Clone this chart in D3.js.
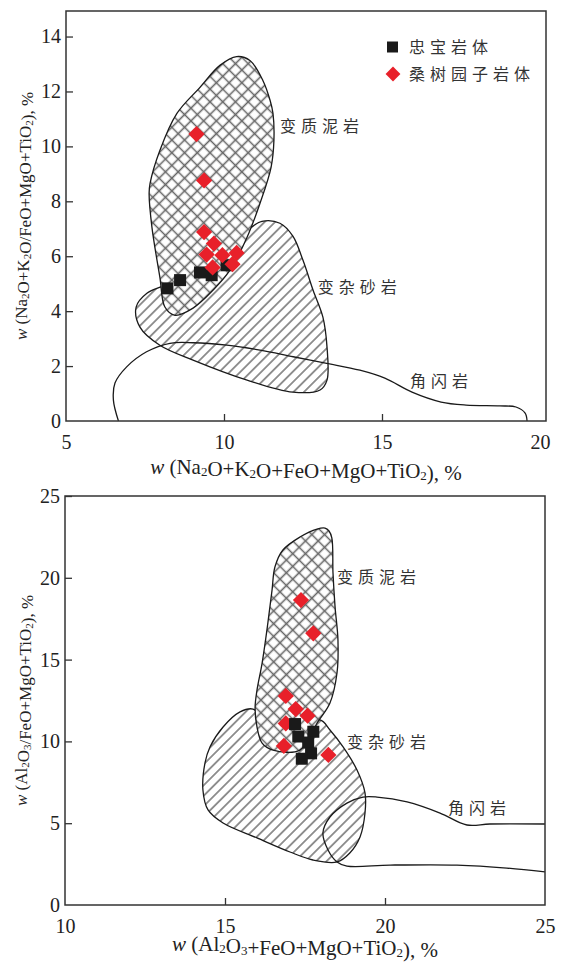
<!DOCTYPE html>
<html>
<head>
<meta charset="utf-8">
<script src="https://cdn.jsdelivr.net/npm/d3@7"></script>
<style>
  body { margin: 0; background: #fff; }
  svg { display: block; }
  .tick text { font-family: "Liberation Serif", serif; font-size: 20px; fill: #222; }
  .cn { font-family: "Noto Sans CJK SC", sans-serif; font-size: 16px; fill: #333; letter-spacing: 5px; }
  .title { font-family: "Liberation Serif", serif; fill: #222; }
</style>
</head>
<body>
<div id="chart"></div>
<script>
// ---- data ----
// chart 1: w(Na2O+K2O+FeO+MgO+TiO2) vs w(Na2O+K2O/FeO+MgO+TiO2)
var zbX1 = [8.21, 8.61, 9.24, 9.61, 10.08];
var zbY1 = [4.83, 5.13, 5.41, 5.31, 5.67];
var sstX1 = [9.13, 9.37, 9.37, 9.68, 9.45, 9.95, 10.4, 9.64, 10.27];
var sstY1 = [10.45, 8.76, 6.88, 6.46, 6.06, 6.04, 6.12, 5.59, 5.71];

var mudstone1 = [[10.40,13.27],[10.82,13.13],[11.23,12.4],[11.46,11.67],[11.55,11.2],[11.58,10.22],[11.49,9.24],[11.14,7.93],[10.73,6.69],[10.19,5.49],[9.65,4.76],[9.02,4.11],[8.45,3.85],[8.13,4.15],[7.97,5.24],[7.72,7.05],[7.63,8.29],[7.66,8.65],[7.97,9.85],[8.51,11.2],[9.24,12.15],[9.87,12.95]];
var greywacke1 = [[10.82,7.02],[11.2,7.27],[11.77,7.2],[12.18,6.73],[12.5,5.85],[12.82,4.76],[13.13,3.78],[13.26,2.69],[13.26,1.49],[13.04,1.13],[12.18,1.05],[10.73,1.49],[9.02,2.22],[7.97,2.76],[7.34,3.42],[7.22,4.15],[7.56,4.65],[8.13,4.95],[9.24,5.67],[10.35,6.65]];
var amphibolite1 = [[6.66,0],[6.5,0.76],[6.55,1.38],[6.92,1.97],[7.55,2.52],[8.29,2.83],[9.03,2.85],[10.09,2.76],[11.14,2.58],[12.19,2.34],[13.25,2.1],[14.3,1.85],[15.09,1.56],[15.95,1.05],[16.87,0.69],[17.66,0.58],[18.73,0.55],[19.24,0.51],[19.53,0.29],[19.59,0]];

var xTicks1 = [5, 10, 15, 20];
var yTicks1 = [0, 2, 4, 6, 8, 10, 12, 14];

// chart 2: w(Al2O3+FeO+MgO+TiO2) vs w(Al2O3/FeO+MgO+TiO2)
var zbX2 = [17.19, 17.29, 17.76, 17.6, 17.69, 17.4];
var zbY2 = [11.06, 10.3, 10.59, 9.93, 9.27, 8.94];
var sstX2 = [17.375, 17.76, 16.9, 17.21, 17.58, 16.9, 16.84, 18.23];
var sstY2 = [18.64, 16.61, 12.78, 11.98, 11.57, 11.1, 9.72, 9.17];

var mudstone2 = [[18.125,23.04],[18.25,22.86],[18.34,22.43],[18.375,20.29],[18.44,18.21],[18.53,16.2],[18.5,14.18],[18.28,12.35],[17.9,11.19],[17.34,9.47],[16.5,9.47],[16.16,9.9],[16.0,10.88],[15.94,12.04],[16.0,13.14],[16.16,14.79],[16.34,17.24],[16.47,19.25],[16.56,20.66],[16.81,21.7],[17.34,22.49],[17.875,22.98]];
var greywacke2 = [[15.875,11.98],[15.47,11.8],[14.94,10.88],[14.53,9.66],[14.375,8.68],[14.31,7.03],[14.47,5.81],[14.94,5.01],[16.0,4.1],[17.03,3.24],[17.75,2.75],[18.5,2.63],[18.9,3.18],[19.22,4.16],[19.375,5.62],[19.375,6.85],[19.125,8.25],[18.69,9.66],[18.28,10.7],[17.97,11.31],[17.03,10.7],[16.1,11.6]];
var amphibolite2 = [[25,4.95],[23.28,4.95],[22.56,4.89],[21.72,5.62],[20.69,6.3],[19.75,6.6],[19.31,6.6],[18.81,6.23],[18.28,5.38],[18.06,4.4],[18.22,3.36],[18.5,2.63],[18.81,2.38],[20.16,2.44],[22.25,2.44],[23.81,2.26],[25,2.02]];

var xTicks2 = [10, 15, 20, 25];
var yTicks2 = [0, 5, 10, 15, 20, 25];

var legendNames = ["忠宝岩体", "桑树园子岩体"];

var svg = d3.select("#chart").append("svg")
    .attr("width", 561)
    .attr("height", 965);

// hatch patterns
var defs = svg.append("defs");
defs.append("pattern")
    .attr("id", "cross")
    .attr("patternUnits", "userSpaceOnUse")
    .attr("width", 9).attr("height", 9)
    .attr("patternTransform", "rotate(45)")
  .append("path")
    .attr("d", "M0,4.5H9M4.5,0V9")
    .attr("stroke", "#666")
    .attr("stroke-width", 1.6);
defs.append("pattern")
    .attr("id", "diag")
    .attr("patternUnits", "userSpaceOnUse")
    .attr("width", 7.4).attr("height", 7.4)
    .attr("patternTransform", "rotate(45)")
  .append("path")
    .attr("d", "M3.7,0V7.4")
    .attr("stroke", "#555")
    .attr("stroke-width", 1.25);

function subText(sel, parts, subSize)
{
  parts.forEach(function(p){
    var t = sel.append("tspan").text(p[0]);
    if(p[1] == "i"){ t.style("font-style", "italic"); }
    if(p[1] == "s"){ t.attr("font-size", subSize).attr("dy", 2); sel.append("tspan").attr("dy", -2).text(""); }
  });
}

function drawChart(o)
{
  var g = svg.append("g");
  var x = d3.scaleLinear().domain(o.xDomain).range([o.left, o.right]);
  var y = d3.scaleLinear().domain(o.yDomain).range([o.bottom, o.top]);
  var area = d3.line().x(function(d){return x(d[0]);}).y(function(d){return y(d[1]);}).curve(d3.curveCatmullRomClosed.alpha(0.5));
  var open = d3.line().x(function(d){return x(d[0]);}).y(function(d){return y(d[1]);}).curve(d3.curveCatmullRom.alpha(0.5));

  // greywacke first, mudstone covers it
  g.append("path").attr("d", area(o.greywacke)).attr("fill", "url(#diag)").attr("stroke", "none");
  g.append("path").attr("d", open(o.amphibolite)).attr("fill", "none").attr("stroke", "#1a1a1a").attr("stroke-width", 1.3);
  g.append("path").attr("d", area(o.greywacke)).attr("fill", "none").attr("stroke", "#1a1a1a").attr("stroke-width", 1.3);
  g.append("path").attr("d", area(o.mudstone)).attr("fill", "#fff");
  g.append("path").attr("d", area(o.mudstone)).attr("fill", "url(#cross)").attr("stroke", "#1a1a1a").attr("stroke-width", 1.3);

  // labels on fields
  o.labels.forEach(function(l){
    g.append("text").attr("class", "cn")
      .attr("x", x(l[1])).attr("y", y(l[2]))
      .attr("dy", "0.35em")
      .text(l[0]);
  });

  // points
  var drawSquares = function(){
    g.selectAll(null).data(o.zbX).enter().append("rect")
      .attr("x", function(d){return x(d) - 6;})
      .attr("y", function(d, i){return y(o.zbY[i]) - 6;})
      .attr("width", 12).attr("height", 12)
      .attr("fill", "#1a1a1a");
  };
  var drawDiamonds = function(){
    g.selectAll(null).data(o.sstX).enter().append("path")
      .attr("d", d3.symbol(d3.symbolSquare, 132))
      .attr("transform", function(d, i){return "translate(" + x(d) + "," + y(o.sstY[i]) + ") rotate(45)";})
      .attr("fill", "#e8202a");
  };
  if(o.redOnTop){ drawSquares(); drawDiamonds(); }
  else { drawDiamonds(); drawSquares(); }

  // frame
  g.append("rect")
    .attr("x", o.left).attr("y", o.top)
    .attr("width", o.right - o.left).attr("height", o.bottom - o.top)
    .attr("fill", "none").attr("stroke", "#333").attr("stroke-width", 1.5);

  // axes with inner ticks
  var xa = g.append("g").attr("transform", "translate(0," + o.bottom + ")")
    .call(d3.axisBottom(x).tickValues(o.xTicks).tickSizeInner(-7).tickSizeOuter(0).tickPadding(14));
  xa.select(".domain").remove();
  xa.selectAll(".tick line").attr("stroke", "#333").attr("stroke-width", 1.3)
    .filter(function(d){return d == o.xDomain[0] || d > o.xNoTickAbove;}).remove();
  var ya = g.append("g").attr("transform", "translate(" + o.left + ",0)")
    .call(d3.axisLeft(y).tickValues(o.yTicks).tickSizeInner(-7).tickSizeOuter(0).tickPadding(5));
  ya.select(".domain").remove();
  ya.selectAll(".tick line").attr("stroke", "#333").attr("stroke-width", 1.3)
    .filter(function(d){return d == o.yDomain[0];}).remove();

  // axis titles
  var xt = g.append("text").attr("class", "title")
    .attr("font-size", 21)
    .attr("x", (o.left + o.right) / 2).attr("y", o.bottom + o.titleGap)
    .attr("text-anchor", "middle");
  subText(xt, o.xTitle, 13);
  var yt = g.append("text").attr("class", "title")
    .attr("font-size", 17)
    .attr("transform", "translate(" + 27 + "," + ((o.top + o.bottom) / 2) + ") rotate(-90)")
    .attr("text-anchor", "middle");
  subText(yt, o.yTitle, 11);

  return {x: x, y: y, g: g};
}

var c1 = drawChart({
  left: 66, right: 546, top: 11, bottom: 421, titleGap: 53,
  xDomain: [5, 20.19], yDomain: [0, 14.93],
  xTicks: xTicks1, yTicks: yTicks1, xNoTickAbove: 19,
  zbX: zbX1, zbY: zbY1, sstX: sstX1, sstY: sstY1, redOnTop: true,
  mudstone: mudstone1, greywacke: greywacke1, amphibolite: amphibolite1,
  labels: [["变质泥岩", 11.77, 10.74], ["变杂砂岩", 12.97, 4.88], ["角闪岩", 15.89, 1.46]],
  xTitle: [["w","i"],[" (Na",""],["2","s"],["O+K",""],["2","s"],["O+FeO+MgO+TiO",""],["2","s"],["), %",""]],
  yTitle: [["w","i"],[" (Na",""],["2","s"],["O+K",""],["2","s"],["O/FeO+MgO+TiO",""],["2","s"],["), %",""]]
});

var c2 = drawChart({
  left: 65, right: 545, top: 496, bottom: 905, titleGap: 46,
  xDomain: [10, 25], yDomain: [0, 25],
  xTicks: xTicks2, yTicks: yTicks2, xNoTickAbove: 24,
  zbX: zbX2, zbY: zbY2, sstX: sstX2, sstY: sstY2, redOnTop: false,
  mudstone: mudstone2, greywacke: greywacke2, amphibolite: amphibolite2,
  labels: [["变质泥岩", 18.5, 20.05], ["变杂砂岩", 18.81, 9.96], ["角闪岩", 21.97, 5.93]],
  xTitle: [["w","i"],[" (Al",""],["2","s"],["O",""],["3","s"],["+FeO+MgO+TiO",""],["2","s"],["), %",""]],
  yTitle: [["w","i"],[" (Al",""],["2","s"],["O",""],["3","s"],["/FeO+MgO+TiO",""],["2","s"],["), %",""]]
});

// legend in chart 1
var lg = c1.g.append("g");
lg.append("rect").attr("x", 387).attr("y", 41.5).attr("width", 11).attr("height", 11).attr("fill", "#1a1a1a");
lg.append("path").attr("d", d3.symbol(d3.symbolSquare, 110))
  .attr("transform", "translate(393,74) rotate(45)").attr("fill", "#e8202a");
lg.selectAll(".lt").data(legendNames).enter().append("text")
  .attr("class", "cn")
  .attr("x", 409)
  .attr("y", function(d, i){return 47 + i * 27;})
  .attr("dy", "0.35em")
  .text(function(d){return d;});
</script>
</body>
</html>
